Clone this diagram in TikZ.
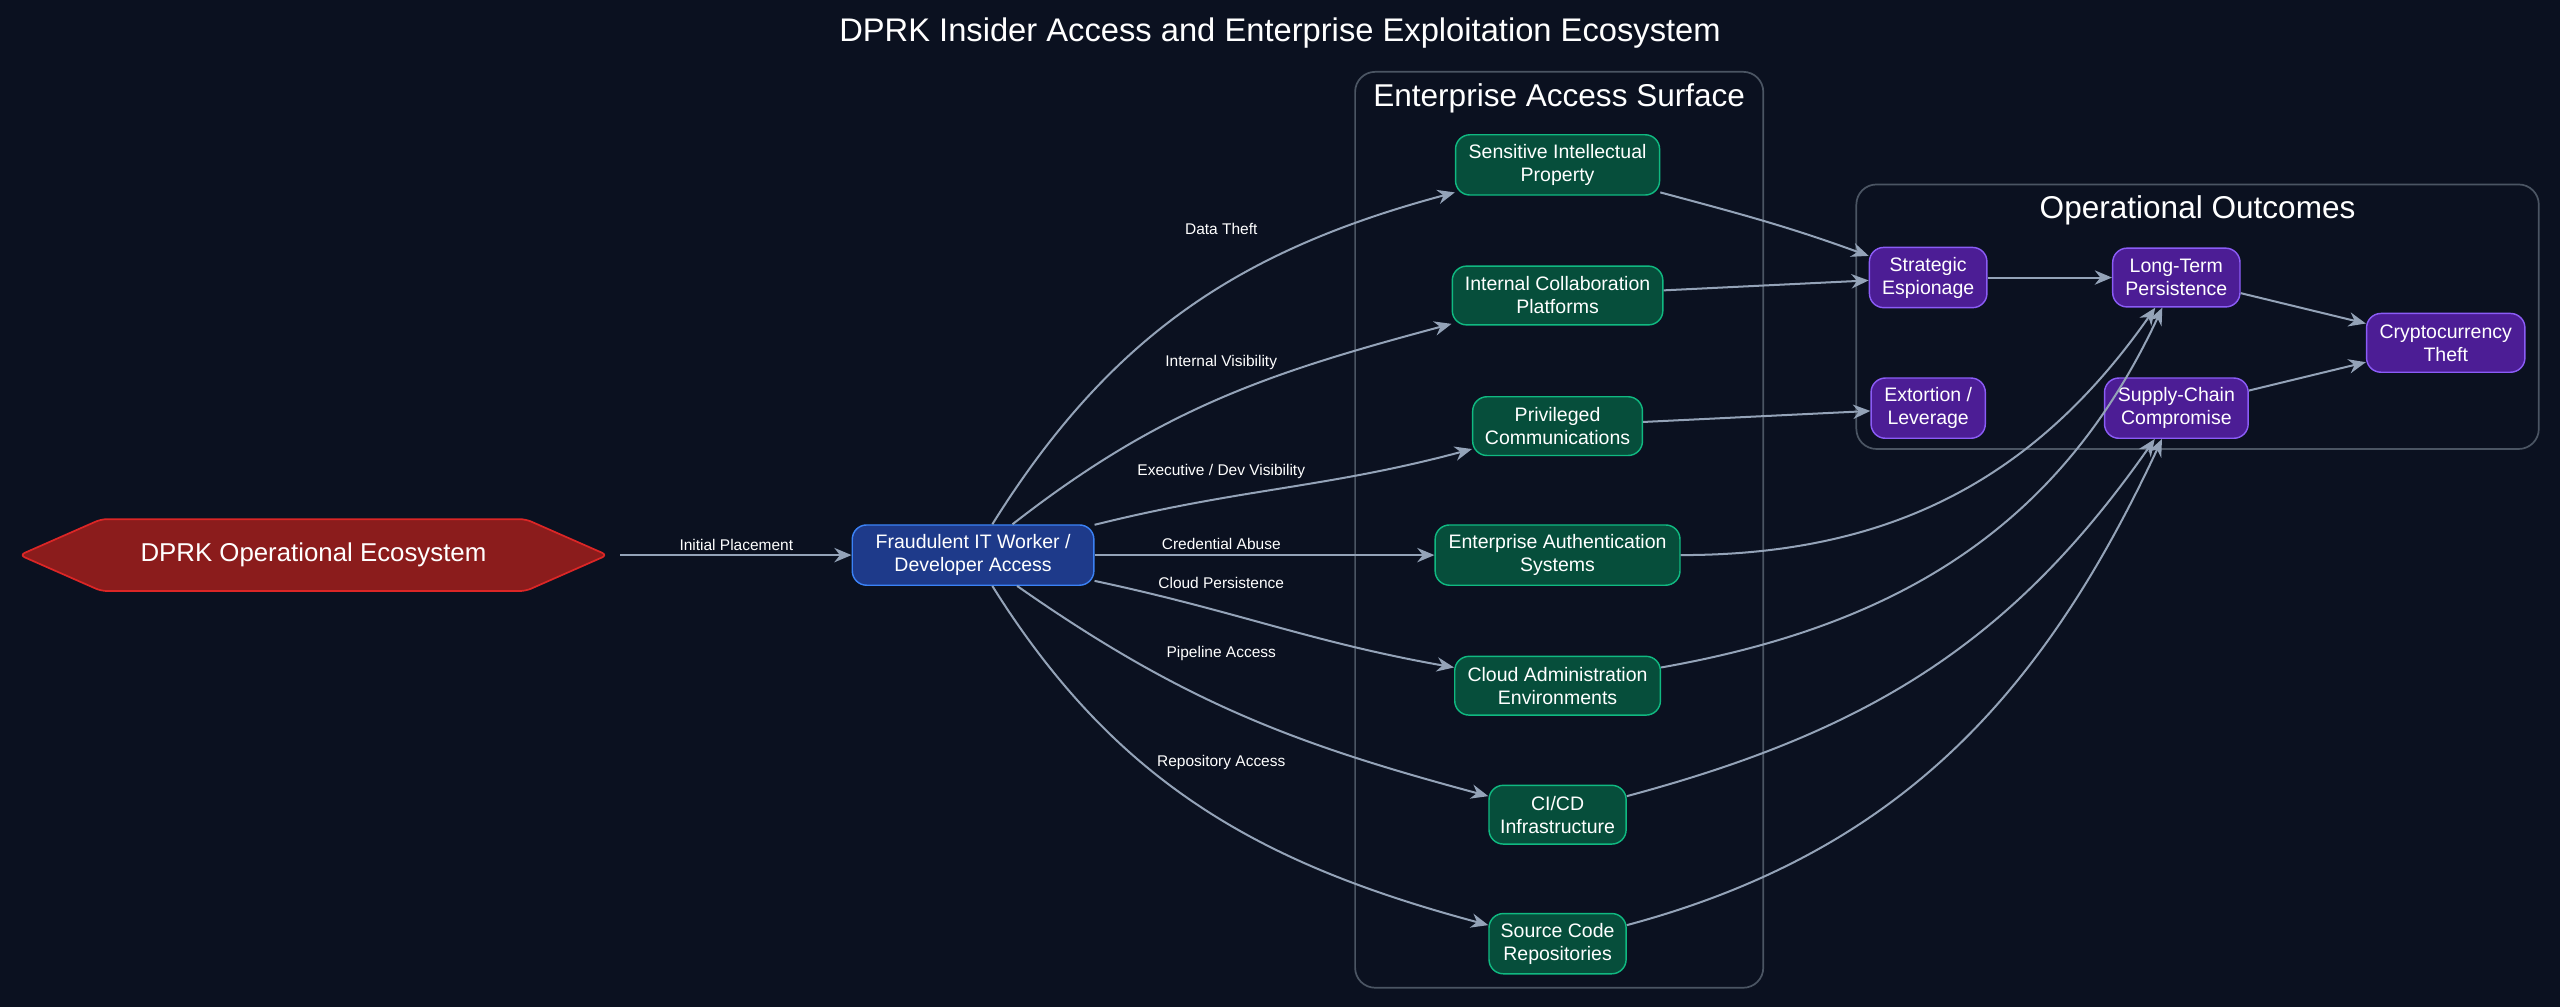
\documentclass[tikz,border=0pt]{standalone}
\usepackage{fontspec}
\setmainfont{Liberation Sans}
\usepackage{xcolor}
\usetikzlibrary{arrows.meta, positioning, shapes, calc}
\definecolor{bgdark}{HTML}{0B1120}
\definecolor{edgegray}{HTML}{94A3B8}
\definecolor{boxgray}{HTML}{4B5563}
\definecolor{redfill}{HTML}{8B1C1C}
\definecolor{redline}{HTML}{DC2626}
\definecolor{bluefill}{HTML}{1E3A8A}
\definecolor{blueline}{HTML}{3B82F6}
\definecolor{greenfill}{HTML}{064E3B}
\definecolor{greenline}{HTML}{10B981}
\definecolor{purplefill}{HTML}{4C1D95}
\definecolor{purpleline}{HTML}{8B5CF6}
\tikzset{
  box/.style={draw, rounded corners=5pt, align=center, text=white, line width=0.5pt,
    minimum height=0.72cm, inner xsep=2pt, font=\fontsize{6.8}{8}\selectfont},
  access/.style={box, fill=greenfill, draw=greenline},
  outcome/.style={box, fill=purplefill, draw=purpleline},
  link/.style={draw=edgegray, line width=0.7pt, -{Stealth[length=6pt,width=5pt]}},
  lbl/.style={text=white, font=\fontsize{5.4}{6}\selectfont},
  cluster/.style={draw=boxgray, rounded corners=7pt, line width=0.6pt}
}
\begin{document}
\begin{tikzpicture}[x=0.02cm, y=-0.02cm]
% background
\fill[bgdark] (0,0) rectangle (1568,617);
\useasboundingbox (0,0) rectangle (1568,617);

% title
\node[text=white, font=\fontsize{11.4}{13}\selectfont] (title) at (784,20) {DPRK Insider Access and Enterprise Exploitation Ecosystem};

% clusters
\draw[cluster] (830,44) rectangle (1080,605);
\node[text=white, font=\fontsize{11}{13}\selectfont] (surface) at (955,60) {Enterprise Access Surface};
\draw[cluster] (1137,113) rectangle (1555,275);
\node[text=white, font=\fontsize{11}{13}\selectfont] (outcomes) at (1346,129) {Operational Outcomes};

% source
\draw[fill=redfill, draw=redline, line width=0.6pt, rounded corners=2pt]
  (12,340) -- (62,318) -- (322,318) -- (372,340) -- (322,362) -- (62,362) -- cycle;
\node[text=white, font=\fontsize{9}{11}\selectfont] (dprk) at (192,340) {DPRK Operational Ecosystem};
\coordinate (dprkR) at (380,340);

% insider
\node[box, fill=bluefill, draw=blueline, minimum width=2.96cm] (worker) at (596,340) {Fraudulent IT Worker /\\Developer Access};

% access surface
\node[access, minimum width=2.5cm] (ip) at (954,101) {Sensitive Intellectual\\Property};
\node[access, minimum width=2.58cm] (collab) at (954,181) {Internal Collaboration\\Platforms};
\node[access, minimum width=2.08cm] (priv) at (954,261) {Privileged\\Communications};
\node[access, minimum width=3cm] (auth) at (954,340) {Enterprise Authentication\\Systems};
\node[access, minimum width=2.52cm] (cloud) at (954,420) {Cloud Administration\\Environments};
\node[access, minimum width=1.68cm] (cicd) at (954,499) {CI/CD\\Infrastructure};
\node[access, minimum width=1.68cm] (repo) at (954,578) {Source Code\\Repositories};

% outcomes
\node[outcome, minimum width=1.44cm] (espionage) at (1181,170) {Strategic\\Espionage};
\node[outcome, minimum width=1.4cm] (extortion) at (1181,250) {Extortion /\\Leverage};
\node[outcome, minimum width=1.56cm] (persist) at (1333,170) {Long-Term\\Persistence};
\node[outcome, minimum width=1.76cm] (supply) at (1333,250) {Supply-Chain\\Compromise};
\node[outcome, minimum width=1.94cm] (crypto) at (1498,210) {Cryptocurrency\\Theft};

% placement
\draw[link] (dprkR) -- (worker);
\node[lbl] (lplace) at (451,334) {Initial Placement};

% worker to surface
\draw[link] (worker) to[out=58, in=195] (ip);
\draw[link] (worker) to[out=38, in=195] (collab);
\draw[link] (worker) to[out=14, in=195] (priv);
\draw[link] (worker) -- (auth);
\draw[link] (worker) to[out=-12, in=170] (cloud);
\draw[link] (worker) to[out=-35, in=165] (cicd);
\draw[link] (worker) to[out=-58, in=165] (repo);
\node[lbl] (ltheft) at (748,140) {Data Theft};
\node[lbl] (lvis) at (748,222) {Internal Visibility};
\node[lbl] (lexec) at (748,289) {Executive / Dev Visibility};
\node[lbl] (lcred) at (748,333) {Credential Abuse};
\node[lbl] (lcloud) at (748,357) {Cloud Persistence};
\node[lbl] (lpipe) at (748,400) {Pipeline Access};
\node[lbl] (lrepo) at (748,467) {Repository Access};

% surface to outcomes
\draw[link] (ip) to[out=-15, in=160] (espionage);
\draw[link] (collab) -- (espionage);
\draw[link] (priv) -- (extortion);
\draw[link] (auth) to[out=0, in=235] (persist);
\draw[link] (cloud) to[out=10, in=245] (persist);
\draw[link] (cicd) to[out=15, in=235] (supply);
\draw[link] (repo) to[out=15, in=245] (supply);
\draw[link] (espionage) -- (persist);
\draw[link] (persist) -- (crypto);
\draw[link] (supply) -- (crypto);
\end{tikzpicture}
\end{document}
